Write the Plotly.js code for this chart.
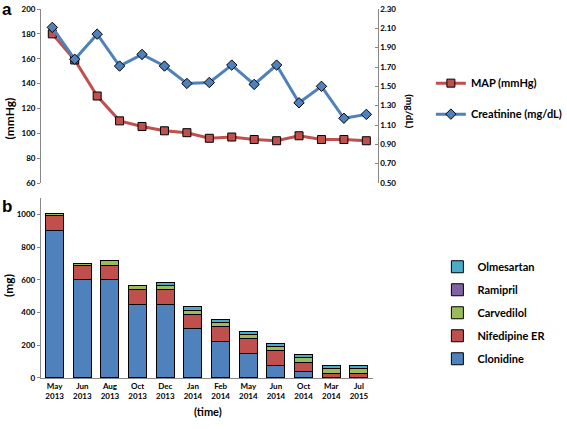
<!DOCTYPE html>
<html>
<head>
<meta charset="utf-8">
<script src="https://cdn.plot.ly/plotly-3.0.1.min.js"></script>
<style>html,body{margin:0;padding:0;background:#fff;}#chart{width:567px;height:429px;}</style>
</head>
<body>
<div id="chart"></div>
<script>
// Panel a: visits (unlabelled time points)
var visits = [1,2,3,4,5,6,7,8,9,10,11,12,13,14,15];
var mapValues = [180,159,130,110,105.5,102,100.5,96,97,95,94,98,95,95,94];
var creatinineValues = [2.11,1.78,2.04,1.71,1.83,1.71,1.53,1.54,1.72,1.52,1.72,1.33,1.50,1.17,1.21];

// Panel b: medication doses (mg)
var timeLabels = ['May<br>2013','Jun<br>2013','Aug<br>2013','Oct<br>2013','Dec<br>2013','Jan<br>2014','Feb<br>2014','May<br>2014','Jun<br>2014','Oct<br>2014','Mar<br>2014','Jul<br>2015'];
var clonidine   = [900,600,600,450,450,300,225,150,75,37.5,0,0];
var nifedipine  = [90,90,90,90,90,90,90,90,90,60,30,30];
var carvedilol  = [12.5,12.5,25,25,25,25,25,25,25,25,25,25];
var ramipril    = [0,0,0,0,0,0,0,0,0,0,0,0];
var olmesartan  = [0,0,0,0,20,20,20,20,20,20,20,20];

var tickFont = {family:'Lato, "Liberation Sans", sans-serif', size:8, color:'#000', weight:'bold'};
var legFont = {family:'Lato, "Liberation Sans", sans-serif', size:11, color:'#000', weight:'bold'};
var axisGrey = '#888888';

var traces = [
  {x:visits, y:mapValues, name:'MAP (mmHg)', type:'scatter', mode:'lines+markers',
   xaxis:'x', yaxis:'y', legend:'legend', legendgroup:'a1',
   line:{color:'#C0504D', width:3}, marker:{symbol:'square', size:8, color:'#C0504D', line:{color:'#000', width:1}}},
  {x:visits, y:creatinineValues, name:'Creatinine (mg/dL)', type:'scatter', mode:'lines+markers',
   xaxis:'x', yaxis:'y2', legend:'legend', legendgroup:'a2',
   line:{color:'#4F81BD', width:3}, marker:{symbol:'diamond', size:8, color:'#4F81BD', line:{color:'#000', width:1}}}
];

var barSeries = [
  ['Clonidine', clonidine, '#4F81BD'],
  ['Nifedipine ER', nifedipine, '#C0504D'],
  ['Carvedilol', carvedilol, '#9BBB59'],
  ['Ramipril', ramipril, '#8064A2'],
  ['Olmesartan', olmesartan, '#4BACC6']
];
barSeries.forEach(function(s, i){
  traces.push({x:timeLabels, y:s[1], name:s[0], type:'bar', xaxis:'x3', yaxis:'y3',
    legend:'legend2', legendgroup:'b'+i, legendrank:100-i,
    marker:{color:s[2], line:{color:'#000', width:1}}});
});

var layout = {
  width:567, height:429,
  margin:{l:0,r:0,t:0,b:0},
  paper_bgcolor:'#fff', plot_bgcolor:'rgba(0,0,0,0)',
  barmode:'stack', bargap:0.35,
  showlegend:true,
  xaxis:{domain:[0.0758,0.6966], range:[0.5,15.5], visible:false, fixedrange:true},
  yaxis:{domain:[0.5734,0.979], range:[60,200], dtick:20, showgrid:false, zeroline:false,
    showline:true, linecolor:axisGrey, linewidth:1, ticks:'outside', ticklen:3, tickcolor:axisGrey,
    tickfont:tickFont, anchor:'x'},
  yaxis2:{overlaying:'y', side:'right', range:[0.5,2.3], tick0:0.5, dtick:0.2, tickformat:'.2f', showgrid:false,
    zeroline:false, showline:true, linecolor:axisGrey, linewidth:1, ticks:'inside', ticklen:3,
    tickcolor:axisGrey, tickfont:tickFont, anchor:'x'},
  xaxis3:{domain:[0.0753,0.6878], anchor:'y3', type:'category', showline:true, linecolor:axisGrey,
    linewidth:1, ticks:'', tickfont:tickFont, showgrid:false},
  yaxis3:{domain:[0.1189,0.5385], anchor:'x3', range:[0,1100], dtick:200, showgrid:false, zeroline:false,
    showline:true, linecolor:axisGrey, linewidth:1, ticks:'outside', ticklen:3, tickcolor:axisGrey,
    tickfont:tickFont},
  legend:{x:0.795, y:0.84, xanchor:'left', yanchor:'top', font:legFont, bgcolor:'rgba(0,0,0,0)',
    traceorder:'grouped', tracegroupgap:12, itemwidth:30},
  legend2:{x:0.807, y:0.412, xanchor:'left', yanchor:'top', font:legFont, bgcolor:'rgba(0,0,0,0)',
    traceorder:'grouped', tracegroupgap:4},
  annotations:[
    {text:'a', xref:'paper', yref:'paper', x:0.0, y:1.005, xanchor:'left', yanchor:'top', showarrow:false,
     font:{family:'"Liberation Sans", Arial, sans-serif', size:17, weight:'bold', color:'#000'}},
    {text:'b', xref:'paper', yref:'paper', x:0.0, y:0.545, xanchor:'left', yanchor:'top', showarrow:false,
     font:{family:'"Liberation Sans", Arial, sans-serif', size:17, weight:'bold', color:'#000'}},
    {text:'(mmHg)', xref:'paper', yref:'paper', x:0, xanchor:'left', y:1-97/429, textangle:-90, showarrow:false,
     borderpad:0, font:{family:'Lato, sans-serif', size:12, weight:'bold', color:'#000'}},
    {text:'(mg/dL)', xref:'paper', yref:'paper', x:437/567, y:1-92/429, textangle:90, showarrow:false,
     font:{family:'Lato, sans-serif', size:10, weight:'bold', color:'#000'}},
    {text:'(mg)', xref:'paper', yref:'paper', x:0, xanchor:'left', y:1-298/429, textangle:-90, showarrow:false,
     borderpad:0, font:{family:'Lato, sans-serif', size:12, weight:'bold', color:'#000'}},
    {text:'(time)', xref:'paper', yref:'paper', x:218/567, y:1-420/429, showarrow:false,
     font:{family:'Lato, sans-serif', size:11, weight:'bold', color:'#000'}}
  ]
};

Plotly.newPlot('chart', traces, layout, {staticPlot:true, displayModeBar:false});
</script>
</body>
</html>
